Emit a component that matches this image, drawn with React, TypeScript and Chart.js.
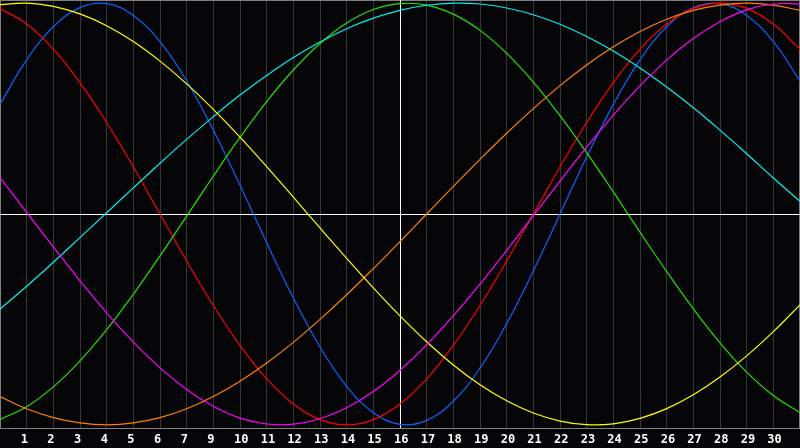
import React, { useEffect, useRef } from 'react';
import { Chart, registerables } from 'chart.js';

Chart.register(...registerables);

// Day positions along the x axis (gridline index)
const days = [0, 1, 2, 3, 4, 5, 6, 7, 8, 9, 10, 11, 12, 13, 14, 15, 16, 17, 18, 19, 20, 21, 22, 23, 24, 25, 26, 27, 28, 29, 30];

// Tick labels shown under each gridline (note: "8" is skipped in the source)
const xTickLabels = ['', '1', '2', '3', '4', '5', '6', '7', '9', '10', '11', '12', '13', '14', '15', '16', '17', '18', '19', '20', '21', '22', '23', '24', '25', '26', '27', '28', '29', '30', ''];

const cursorDay = 15;

// Series values (range -1 .. 1)
const physical = [0.520, 0.731, 0.888, 0.979, 0.998, 0.942, 0.817, 0.631, 0.398, 0.136, -0.136, -0.398, -0.631, -0.817, -0.942, -0.998, -0.979, -0.888, -0.731, -0.520, -0.270, 0.000, 0.270, 0.520, 0.731, 0.888, 0.979, 0.998, 0.942, 0.817, 0.631];
const emotional = [0.975, 0.901, 0.782, 0.623, 0.434, 0.223, 0.000, -0.223, -0.434, -0.623, -0.782, -0.901, -0.975, -1.000, -0.975, -0.901, -0.782, -0.623, -0.434, -0.223, 0.000, 0.223, 0.434, 0.623, 0.782, 0.901, 0.975, 1.000, 0.975, 0.901, 0.782];
const intellectual = [-0.974, -0.914, -0.820, -0.697, -0.549, -0.381, -0.199, -0.010, 0.180, 0.363, 0.533, 0.683, 0.809, 0.906, 0.970, 0.998, 0.991, 0.948, 0.871, 0.762, 0.626, 0.467, 0.291, 0.105, -0.086, -0.273, -0.450, -0.611, -0.750, -0.861, -0.942];
const intuitive = [0.173, 0.008, -0.156, -0.317, -0.469, -0.608, -0.730, -0.832, -0.912, -0.968, -0.996, -0.997, -0.971, -0.919, -0.842, -0.741, -0.621, -0.483, -0.333, -0.173, -0.008, 0.156, 0.317, 0.469, 0.608, 0.730, 0.832, 0.912, 0.968, 0.996, 0.997];
const aesthetic = [0.993, 1.000, 0.985, 0.949, 0.893, 0.818, 0.725, 0.617, 0.496, 0.365, 0.225, 0.080, -0.066, -0.210, -0.350, -0.483, -0.606, -0.716, -0.810, -0.886, -0.944, -0.982, -0.999, -0.995, -0.969, -0.923, -0.857, -0.773, -0.673, -0.558, -0.431];
const awareness = [-0.866, -0.924, -0.966, -0.991, -1.000, -0.991, -0.966, -0.924, -0.866, -0.793, -0.707, -0.609, -0.500, -0.383, -0.259, -0.131, 0.000, 0.131, 0.259, 0.383, 0.500, 0.609, 0.707, 0.793, 0.866, 0.924, 0.966, 0.991, 1.000, 0.991, 0.966];
const spiritual = [-0.451, -0.343, -0.229, -0.112, 0.006, 0.124, 0.241, 0.354, 0.462, 0.564, 0.657, 0.742, 0.816, 0.879, 0.929, 0.966, 0.990, 1.000, 0.996, 0.977, 0.945, 0.900, 0.842, 0.773, 0.692, 0.602, 0.504, 0.398, 0.286, 0.171, 0.060];

const seriesNames = ['Intuitive', 'Aesthetic', 'Awareness', 'Spiritual', 'Intellectual', 'Emotional', 'Physical'];
const seriesValues = [intuitive, aesthetic, awareness, spiritual, intellectual, emotional, physical];
const seriesColors = ['#ff00ff', '#ffff00', '#ff8000', '#00f0f0', '#22e000', '#ff0000', '#0a64ff'];

const BG = '#050508';
const GRID = '#363636';
const FRAME = '#808080';

export default function App() {
  const ref = useRef<HTMLCanvasElement>(null);

  useEffect(() => {
    document.body.style.margin = '0';
    document.body.style.background = BG;
    const canvas = ref.current;
    if (!canvas) return;

    const framePlugin = {
      id: 'framePlugin',
      beforeDraw(chart: any) {
        const { ctx, width, height } = chart;
        ctx.save();
        ctx.fillStyle = BG;
        ctx.fillRect(0, 0, width, height);
        ctx.restore();
      },
      beforeDatasetsDraw(chart: any) {
        const { ctx, chartArea: a, scales } = chart;
        ctx.save();
        ctx.lineWidth = 1;
        ctx.strokeStyle = FRAME;
        ctx.beginPath();
        ctx.moveTo(a.left + 0.5, a.top);
        ctx.lineTo(a.left + 0.5, a.bottom);
        ctx.moveTo(a.right - 0.5, a.top);
        ctx.lineTo(a.right - 0.5, a.bottom);
        ctx.moveTo(a.left, a.top + 0.5);
        ctx.lineTo(a.right, a.top + 0.5);
        ctx.moveTo(a.left, a.bottom + 0.5);
        ctx.lineTo(a.right, a.bottom + 0.5);
        ctx.stroke();

        const y0 = Math.round(scales.y.getPixelForValue(0)) + 0.5;
        const xc = Math.round(scales.x.getPixelForValue(cursorDay)) + 0.5;
        ctx.strokeStyle = '#ffffff';
        ctx.beginPath();
        ctx.moveTo(a.left, y0);
        ctx.lineTo(a.right, y0);
        ctx.moveTo(xc, a.top);
        ctx.lineTo(xc, a.bottom);
        ctx.stroke();
        ctx.restore();
      },
    };

    const chart = new Chart(canvas, {
      type: 'line',
      data: {
        datasets: seriesValues.map((vals, i) => ({
          label: seriesNames[i],
          data: days.map((d, j) => ({ x: d, y: vals[j] })),
          borderColor: seriesColors[i],
          backgroundColor: seriesColors[i],
          borderWidth: 1.2,
          pointRadius: 0,
          tension: 0.4,
          fill: false,
        })),
      },
      options: {
        animation: false,
        responsive: false,
        devicePixelRatio: 1,
        layout: { padding: 0 },
        plugins: {
          legend: { display: false },
          tooltip: { enabled: false },
        },
        events: [],
        scales: {
          x: {
            type: 'linear',
            min: 0,
            max: 30,
            afterFit: (s: any) => {
              s.height = 20;
              s.paddingLeft = 0;
              s.paddingRight = 0;
              s.paddingTop = 0;
              s.paddingBottom = 0;
            },
            afterBuildTicks: (s: any) => {
              s.ticks = days.map((v) => ({ value: v }));
            },
            border: { display: false },
            grid: {
              drawTicks: false,
              lineWidth: 1,
              color: (c: any) => {
                const v = c.tick ? c.tick.value : -1;
                if (v === 0 || v === 30 || v === cursorDay) return 'rgba(0,0,0,0)';
                return GRID;
              },
            },
            ticks: {
              autoSkip: false,
              maxRotation: 0,
              minRotation: 0,
              align: 'start',
              labelOffset: -6,
              padding: 5,
              color: '#ffffff',
              font: { family: 'DejaVu Sans Mono', weight: 'bold', size: 12 },
              callback: (v: any) => xTickLabels[Math.round(Number(v))] ?? '',
            },
          },
          y: {
            type: 'linear',
            display: false,
            min: -1.015,
            max: 1.015,
          },
        },
      },
      plugins: [framePlugin],
    } as any);

    return () => chart.destroy();
  }, []);

  return (
    <div style={{ width: 800, height: 448, background: BG }}>
      <canvas ref={ref} width={800} height={448} style={{ display: 'block', width: 800, height: 448 }} />
    </div>
  );
}
